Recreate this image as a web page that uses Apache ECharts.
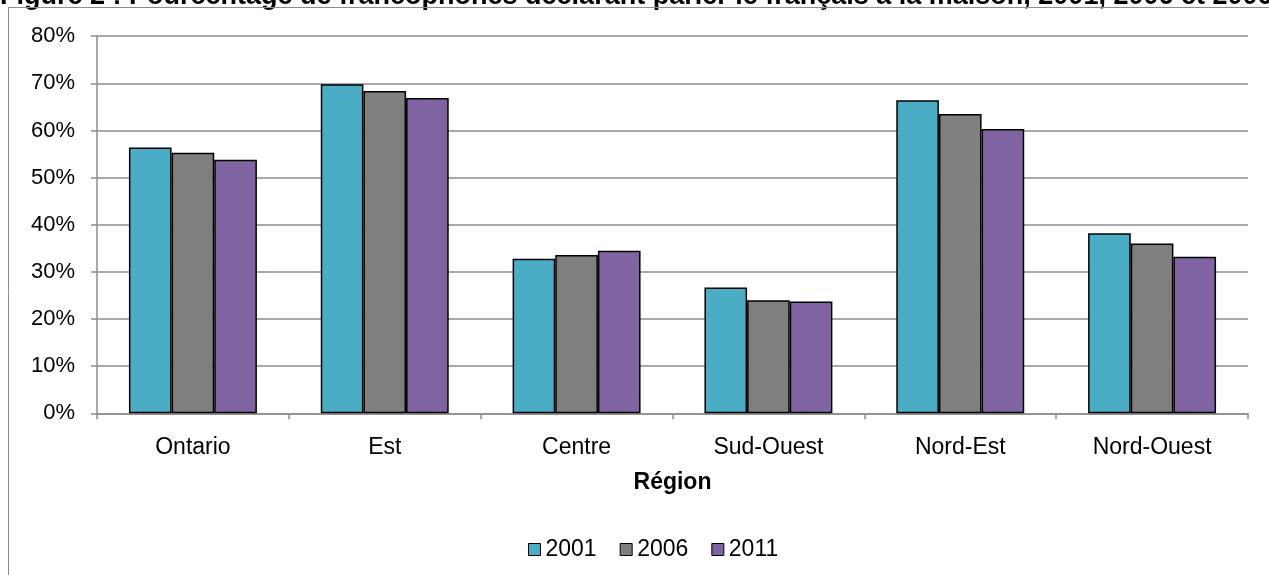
<!DOCTYPE html>
<html>
<head>
<meta charset="utf-8">
<script src="https://cdn.jsdelivr.net/npm/echarts@6/dist/echarts.min.js"></script>
<style>
  html, body { margin: 0; padding: 0; background: #fff; }
  #chart { width: 1269px; height: 575px; }
</style>
</head>
<body>
<div id="chart"></div>
<script>
// Régions et parts (en proportion) par recensement
const regions = ['Ontario', 'Est', 'Centre', 'Sud-Ouest', 'Nord-Est', 'Nord-Ouest'];
const years = ['2001', '2006', '2011'];
const values2001 = [0.564, 0.698, 0.328, 0.267, 0.664, 0.382];
const values2006 = [0.553, 0.684, 0.336, 0.240, 0.635, 0.360];
const values2011 = [0.538, 0.669, 0.345, 0.237, 0.603, 0.332];
const yTicks = [0, 0.1, 0.2, 0.3, 0.4, 0.5, 0.6, 0.7, 0.8];
const titleText = 'Figure 2 : Pourcentage de francophones déclarant parler le français à la maison, 2001, 2006 et 2006';

const colors = ['#4BACC6', '#7F7F7F', '#8064A2'];
const font = '"Liberation Sans", Arial, sans-serif';
const gridColor = '#8c8c8c';

const chart = echarts.init(document.getElementById('chart'), null, { renderer: 'canvas' });

const seriesData = [values2001, values2006, values2011];

chart.setOption({
  animation: false,
  backgroundColor: '#ffffff',
  textStyle: { fontFamily: font },
  graphic: [
    {
      type: 'text',
      left: 0,
      top: -17,
      style: {
        text: titleText,
        font: 'bold 27px ' + font,
        fill: '#000'
      }
    },
    {
      type: 'rect',
      shape: { x: 8.5, y: 7.5, width: 1400, height: 700 },
      style: { fill: 'none', stroke: '#8c8c8c', lineWidth: 1 },
      silent: true
    }
  ],
  grid: {
    left: 97,
    right: 21,
    top: 36.2,
    bottom: 161.7,
    containLabel: false
  },
  legend: {
    data: years,
    left: 523,
    top: 533,
    itemWidth: 12,
    itemHeight: 12,
    itemGap: 23,
    icon: 'rect',
    textStyle: { fontFamily: font, fontSize: 23, color: '#000' },
    itemStyle: { borderColor: '#000', borderWidth: 1 }
  },
  xAxis: {
    type: 'category',
    data: regions,
    name: 'Région',
    nameLocation: 'middle',
    nameGap: 58,
    nameTextStyle: { fontFamily: font, fontSize: 23, fontWeight: 'bold', color: '#000' },
    axisLine: { lineStyle: { color: gridColor, width: 1.5 } },
    axisTick: { show: true, length: 6, lineStyle: { color: gridColor, width: 1.5 } },
    axisLabel: { fontFamily: font, fontSize: 23, color: '#000', margin: 23 },
    splitLine: { show: false }
  },
  yAxis: {
    type: 'value',
    min: 0,
    max: 0.8,
    interval: 0.1,
    axisLine: { show: true, lineStyle: { color: gridColor, width: 1.5 } },
    axisTick: { show: true, length: 6, lineStyle: { color: gridColor, width: 1.5 } },
    axisLabel: {
      fontFamily: font, fontSize: 22, color: '#000', margin: 22,
      formatter: v => {
        const t = yTicks.find(k => Math.abs(k - v) < 1e-9);
        return Math.round((t !== undefined ? t : v) * 100) + '%';
      }
    },
    splitLine: { show: true, lineStyle: { color: gridColor, width: 1.5 } }
  },
  series: years.map((y, i) => ({
    name: y,
    type: 'bar',
    data: seriesData[i],
    barGap: '0%',
    barCategoryGap: '33.3%',
    itemStyle: { color: colors[i], borderColor: '#000', borderWidth: 1.5 }
  }))
});
</script>
</body>
</html>
